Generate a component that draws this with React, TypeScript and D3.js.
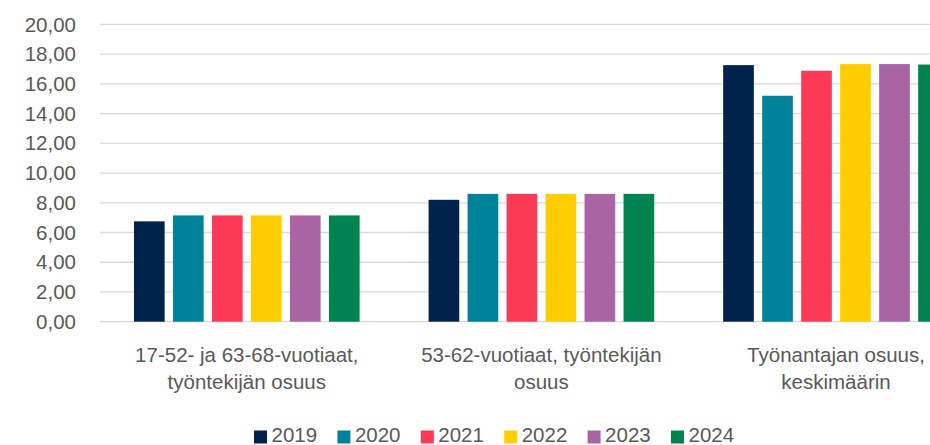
import * as d3 from "d3";

const categories = [
  ["17-52- ja 63-68-vuotiaat,", "työntekijän osuus"],
  ["53-62-vuotiaat, työntekijän", "osuus"],
  ["Työnantajan osuus,", "keskimäärin"],
];
const years = ["2019", "2020", "2021", "2022", "2023", "2024"];
const colors = ["#00234B", "#00839A", "#FD3A55", "#FFCD00", "#A965A3", "#00834F"];

const v2019 = [6.75, 8.2, 17.26];
const v2020 = [7.15, 8.6, 15.2];
const v2021 = [7.15, 8.6, 16.88];
const v2022 = [7.15, 8.6, 17.33];
const v2023 = [7.15, 8.6, 17.33];
const v2024 = [7.15, 8.6, 17.3];
const series = [v2019, v2020, v2021, v2022, v2023, v2024];

const yTicks = [0, 2, 4, 6, 8, 10, 12, 14, 16, 18, 20];

const W = 930;
const H = 445;
const FONT = "'Liberation Sans', Arial, sans-serif";
const TEXT = "#595959";
const FS = 20.5;

export default function App() {
  const catIdx = categories.map((_, i) => String(i));
  const x0 = d3.scaleBand().domain(catIdx).range([99.5, 983.3]).padding(0);
  const x1 = d3
    .scaleBand()
    .domain(years)
    .range([0, x0.bandwidth()])
    .paddingInner(0.213)
    .paddingOuter(0.884);
  const y = d3.scaleLinear().domain([0, 20]).range([321.7, 24.4]);
  const fmt = (d: number) => d3.format(".2f")(d).replace(".", ",");

  return (
    <svg
      width={W}
      height={H}
      style={{ position: "absolute", left: 0, top: 0, background: "#fff" }}
      fontFamily={FONT}
    >
      {/* grid + y labels */}
      {yTicks.map((t) => (
        <g key={t}>
          <line x1={100} x2={W} y1={y(t)} y2={y(t)} stroke="#d9d9d9" strokeWidth={1.3} />
          <text
            x={76}
            y={y(t)}
            dy="0.35em"
            textAnchor="end"
            fontSize={FS}
            fill={TEXT}
          >
            {fmt(t)}
          </text>
        </g>
      ))}

      {/* bars */}
      {series.map((vals, si) =>
        vals.map((v, ci) => (
          <rect
            key={`${si}-${ci}`}
            x={x0(String(ci))! + x1(years[si])!}
            y={y(v)}
            width={x1.bandwidth()}
            height={y(0) - y(v)}
            fill={colors[si]}
          />
        ))
      )}

      {/* category labels */}
      {categories.map((lines, ci) => (
        <text
          key={ci}
          x={x0(String(ci))! + x0.bandwidth() / 2}
          textAnchor="middle"
          fontSize={FS}
          fill={TEXT}
        >
          {lines.map((l, li) => (
            <tspan key={li} x={x0(String(ci))! + x0.bandwidth() / 2} y={362 + li * 27}>
              {l}
            </tspan>
          ))}
        </text>
      ))}

      {/* legend */}
      {years.map((yr, i) => {
        const lx = 254 + i * 83.4;
        return (
          <g key={yr}>
            <rect x={lx} y={430.5} width={13} height={13} fill={colors[i]} />
            <text x={lx + 17.5} y={441.5} fontSize={FS} fill={TEXT}>
              {yr}
            </text>
          </g>
        );
      })}
    </svg>
  );
}
